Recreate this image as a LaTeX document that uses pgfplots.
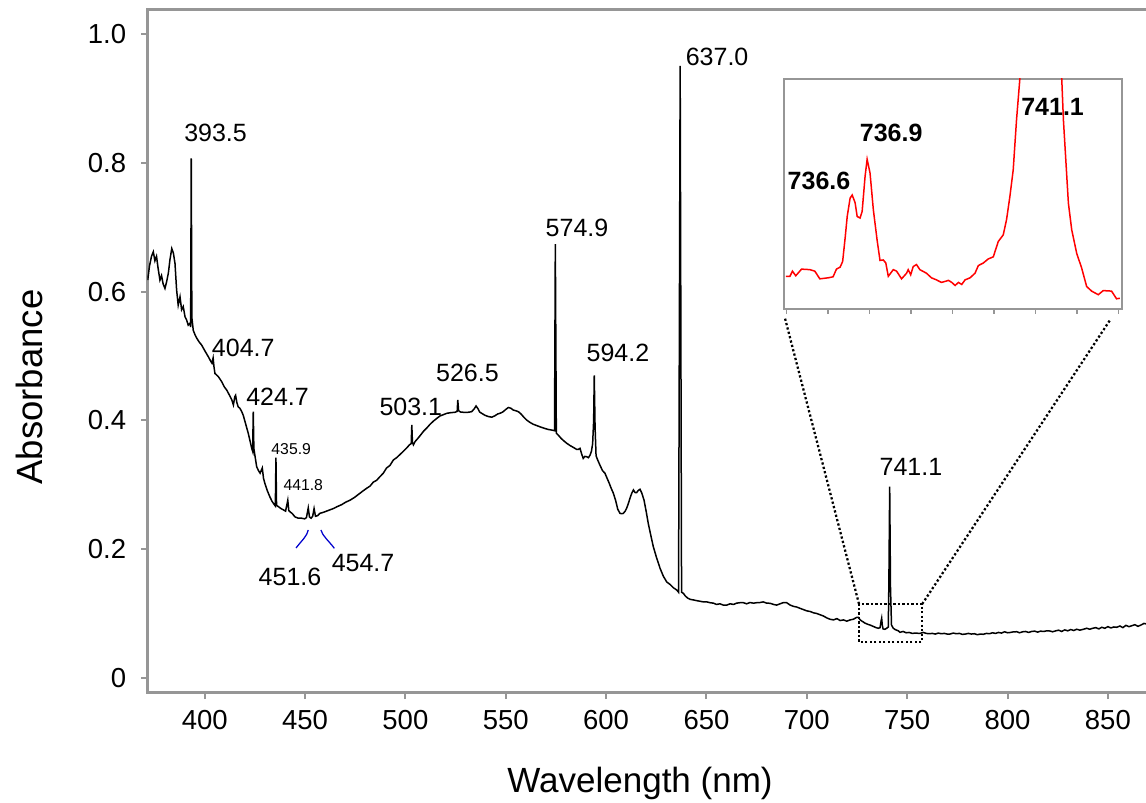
\documentclass[border=0pt]{standalone}
\usepackage{fontspec}
\setmainfont{Liberation Sans}
\usepackage{pgfplots}
\pgfplotsset{compat=1.18}
\definecolor{axgray}{RGB}{150,150,150}
\definecolor{brblue}{RGB}{0,0,205}

\pgfplotstableread{
x y
371.6 0.618
372.5 0.640
373.5 0.655
374.4 0.662
375.2 0.648
376.0 0.655
376.8 0.636
377.7 0.618
378.5 0.625
379.3 0.612
380.2 0.605
381.0 0.615
381.9 0.629
382.7 0.650
383.6 0.667
384.4 0.660
385.2 0.644
386.0 0.603
386.8 0.579
387.7 0.592
388.5 0.572
389.3 0.577
390.2 0.561
391.0 0.556
391.8 0.548
392.7 0.551
393.0 0.545
393.3 0.807
393.6 0.560
394.3 0.540
395.2 0.533
396.0 0.528
397.2 0.522
398.5 0.517
400.1 0.508
401.8 0.499
403.0 0.492
403.6 0.489
404.2 0.497
404.6 0.484
405.1 0.473
406.8 0.468
408.5 0.460
409.8 0.452
411.0 0.447
412.2 0.440
413.5 0.432
414.3 0.424
415.0 0.437
415.4 0.439
416.0 0.428
416.7 0.421
417.5 0.419
418.4 0.414
419.2 0.408
420.1 0.398
421.7 0.380
422.6 0.368
423.4 0.357
423.9 0.352
424.2 0.4135
424.5 0.356
424.9 0.348
425.9 0.328
426.8 0.322
427.6 0.318
428.7 0.326
429.3 0.310
430.0 0.302
431.3 0.290
432.5 0.281
433.6 0.274
434.7 0.269
435.2 0.267
435.5 0.342
435.8 0.268
436.7 0.266
438.0 0.263
439.2 0.261
440.3 0.259
441.4 0.276
441.9 0.260
442.5 0.258
443.7 0.255
445.0 0.250
446.7 0.248
448.3 0.248
449.8 0.247
450.7 0.249
451.6 0.264
452.2 0.250
453.0 0.248
453.8 0.251
454.5 0.263
455.2 0.251
456.3 0.252
457.4 0.2556
459.0 0.257
460.7 0.259
462.4 0.261
464.1 0.263
466.0 0.266
468.2 0.269
470.3 0.273
472.4 0.276
474.5 0.280
476.6 0.285
478.7 0.290
480.7 0.2945
482.4 0.298
484.0 0.304
485.7 0.307
487.3 0.3125
489.0 0.318
490.6 0.326
492.3 0.330
494.0 0.3385
495.6 0.342
497.3 0.347
499.0 0.352
500.6 0.357
502.0 0.362
502.9 0.364
503.2 0.393
503.5 0.366
504.0 0.362
504.8 0.367
506.2 0.372
507.5 0.377
509.0 0.383
510.6 0.388
512.3 0.394
514.0 0.399
515.6 0.403
517.3 0.407
519.0 0.409
520.6 0.411
522.6 0.412
524.7 0.4126
525.8 0.414
526.1 0.4317
526.5 0.415
527.5 0.413
528.9 0.4126
530.8 0.4124
533.0 0.4135
534.3 0.418
535.2 0.4224
536.2 0.418
537.0 0.413
538.0 0.411
539.6 0.408
541.3 0.406
543.0 0.405
544.5 0.407
546.0 0.410
547.1 0.411
548.5 0.413
550.0 0.417
551.3 0.420
552.5 0.419
553.8 0.416
555.0 0.415
556.3 0.4135
557.6 0.410
559.0 0.405
560.4 0.4006
562.0 0.397
563.7 0.394
565.4 0.392
567.1 0.390
569.0 0.388
571.0 0.386
572.9 0.385
574.3 0.384
574.7 0.674
575.2 0.380
576.2 0.377
577.6 0.372
579.0 0.368
580.4 0.3644
582.0 0.361
583.7 0.358
585.3 0.355
586.2 0.355
587.0 0.3566
587.8 0.348
588.6 0.341
589.4 0.344
590.3 0.3436
591.2 0.342
592.0 0.346
592.7 0.352
593.3 0.364
593.8 0.400
594.1 0.470
594.5 0.390
595.0 0.345
595.8 0.3385
597.0 0.330
598.2 0.322
599.4 0.318
600.5 0.310
601.6 0.302
602.6 0.294
603.6 0.287
604.8 0.275
605.8 0.262
606.9 0.2556
607.8 0.255
608.6 0.2556
609.5 0.259
610.3 0.264
611.1 0.271
612.0 0.280
612.8 0.287
613.6 0.292
614.4 0.288
615.2 0.2877
616.0 0.291
616.9 0.293
617.8 0.287
618.9 0.276
620.0 0.258
621.0 0.240
622.3 0.221
623.5 0.204
625.2 0.186
626.9 0.170
628.5 0.158
630.2 0.149
631.9 0.145
633.5 0.140
635.2 0.1364
636.1 0.133
636.9 0.951
637.6 0.133
638.5 0.1313
639.5 0.127
640.6 0.124
641.8 0.122
643.5 0.121
645.0 0.120
646.7 0.119
648.4 0.118
650.1 0.118
651.8 0.1167
653.5 0.116
655.0 0.114
656.7 0.115
658.4 0.113
660.1 0.113
661.8 0.115
663.5 0.114
665.0 0.116
666.7 0.1167
668.4 0.1167
670.0 0.115
671.7 0.117
673.4 0.116
675.0 0.1167
676.7 0.117
678.3 0.118
680.0 0.116
681.7 0.1158
683.4 0.114
685.0 0.113
686.7 0.115
688.4 0.117
690.0 0.1167
691.7 0.113
693.4 0.111
695.0 0.110
696.6 0.108
698.3 0.106
700.0 0.104
701.7 0.103
703.3 0.101
704.9 0.100
706.6 0.098
708.3 0.096
710.0 0.093
711.6 0.091
713.3 0.090
715.0 0.092
716.6 0.089
718.3 0.090
719.9 0.088
721.6 0.090
723.2 0.091
724.9 0.094
725.7 0.094
726.6 0.090
727.5 0.088
729.0 0.085
730.5 0.083
731.5 0.082
733.0 0.080
734.5 0.078
735.6 0.077
736.5 0.078
737.0 0.088
737.3 0.0925
737.6 0.082
738.0 0.076
738.9 0.0754
739.8 0.077
740.6 0.079
740.9 0.150
741.3 0.297
741.7 0.140
742.2 0.082
743.1 0.077
744.0 0.075
745.6 0.073
746.4 0.0707
748.0 0.072
749.5 0.070
751.0 0.0705
752.5 0.069
754.0 0.0695
756.4 0.069
758.0 0.0705
759.5 0.069
761.0 0.0685
762.5 0.069
764.0 0.068
765.5 0.0695
767.0 0.0685
768.5 0.069
770.0 0.068
771.3 0.068
773.0 0.0695
774.5 0.0685
776.0 0.069
777.5 0.0675
779.0 0.068
780.5 0.069
782.0 0.068
783.5 0.0685
785.0 0.067
786.5 0.068
787.9 0.0676
789.5 0.069
791.0 0.0685
792.5 0.070
794.0 0.069
795.5 0.0705
797.0 0.0695
798.5 0.0715
800.0 0.070
801.5 0.0705
803.0 0.0715
804.6 0.0716
806.0 0.070
807.5 0.0715
809.0 0.072
810.5 0.0705
812.0 0.072
813.5 0.0725
815.0 0.071
816.5 0.0725
818.0 0.072
819.5 0.073
821.2 0.0727
822.5 0.0715
824.0 0.073
825.5 0.074
827.0 0.072
828.5 0.0745
830.0 0.073
831.5 0.075
833.0 0.0735
834.5 0.0755
836.0 0.074
837.8 0.0754
839.5 0.077
841.0 0.0755
842.5 0.077
844.0 0.078
845.5 0.076
847.0 0.0785
848.5 0.077
850.0 0.0795
851.5 0.0775
853.0 0.079
854.4 0.0785
856.0 0.0805
857.5 0.078
859.0 0.0815
860.5 0.0795
862.0 0.081
863.5 0.0825
865.0 0.080
866.5 0.082
868.0 0.0845
869.3 0.0836
871.0 0.084
}\spectrum

\pgfplotstableread{
x y
734.98 0.0714
735.08 0.0714
735.14 0.0724
735.22 0.0715
735.36 0.0728
735.56 0.0727
735.68 0.0724
735.80 0.0709
736.00 0.0711
736.12 0.0713
736.20 0.0728
736.29 0.0732
736.35 0.0743
736.41 0.0789
736.46 0.0831
736.53 0.0867
736.58 0.0873
736.65 0.0858
736.70 0.0831
736.77 0.0828
736.82 0.0841
736.89 0.0909
736.94 0.0943
737.01 0.0916
737.09 0.0844
737.18 0.0785
737.25 0.0745
737.33 0.0746
737.39 0.0740
737.45 0.0714
737.57 0.0727
737.65 0.0724
737.77 0.0709
737.89 0.0720
737.93 0.0727
737.99 0.0717
738.05 0.0733
738.13 0.0737
738.21 0.0727
738.37 0.0720
738.49 0.0711
738.61 0.0707
738.73 0.0702
738.82 0.0704
738.90 0.0706
738.98 0.0702
739.06 0.0696
739.14 0.0702
739.22 0.0698
739.30 0.0707
739.42 0.0711
739.54 0.0720
739.62 0.0735
739.74 0.0740
739.86 0.0748
739.98 0.0752
740.10 0.0782
740.22 0.0795
740.30 0.0825
740.38 0.0870
740.46 0.0922
740.54 0.1020
740.62 0.1100
741.10 0.2970
741.63 0.1100
741.67 0.1020
741.79 0.0857
741.87 0.0805
741.99 0.0759
742.11 0.0730
742.23 0.0694
742.35 0.0685
742.51 0.0678
742.63 0.0686
742.83 0.0685
742.95 0.0670
743.03 0.0671
}\insetdata

\begin{document}
\begin{tikzpicture}
\begin{axis}[
  scale only axis, width=401pt, height=273.4pt,
  xmin=371.5, xmax=871, ymin=-0.0236, ymax=1.0385,
  xtick={400,450,...,850},
  ytick={0,0.2,0.4,0.6,0.8,1.0},
  yticklabels={0,0.2,0.4,0.6,0.8,1.0},
  tick pos=left, tick align=outside,
  major tick length=2.5pt,
  every tick/.style={axgray, line width=0.8pt},
  axis line style={axgray, line width=1.2pt},
  ticklabel style={font=\fontsize{11}{13}\selectfont},
  /pgf/number format/assume math mode=true,
  /pgf/number format/1000 sep={},
  xticklabel style={yshift=-1pt},
  yticklabel style={xshift=-2.5pt},
  clip mode=individual,
]
\addplot[black, line width=0.6pt] table[x=x, y=y] {\spectrum};

% peak labels
\begin{scope}[font=\fontsize{10}{12}\selectfont]
\node at (axis cs:405.4,0.8466) {393.5};
\node at (axis cs:419.2,0.5120) {404.7};
\node at (axis cs:436.3,0.4368) {424.7};
\node at (axis cs:442.5,0.1566) {451.6};
\node at (axis cs:478.9,0.1784) {454.7};
\node at (axis cs:502.7,0.4213) {503.1};
\node at (axis cs:530.9,0.4732) {526.5};
\node at (axis cs:585.5,0.6990) {574.9};
\node at (axis cs:605.9,0.5047) {594.2};
\node at (axis cs:655.3,0.9647) {637.0};
\node at (axis cs:751.9,0.3276) {741.1};
\end{scope}
\node[font=\fontsize{6.3}{7}\selectfont] at (axis cs:443.1,0.3552) {435.9};
\node[font=\fontsize{6.3}{7}\selectfont] at (axis cs:449.1,0.2991) {441.8};

% brackets under the 451.6 / 454.7 pair
\draw[brblue, line width=0.5pt] (axis cs:445.5,0.2017) .. controls (axis cs:448.5,0.214) and (axis cs:451.0,0.220) .. (axis cs:451.6,0.2297);
\draw[brblue, line width=0.5pt] (axis cs:457.9,0.2297) .. controls (axis cs:458.8,0.220) and (axis cs:461.5,0.214) .. (axis cs:464.6,0.2012);

% zoom box and guide lines
\draw[black, line width=0.9pt, dash pattern=on 0.9pt off 0.9pt] (axis cs:726.0,0.0561) rectangle (axis cs:757.5,0.1147);
\draw[black, line width=0.9pt, dash pattern=on 0.9pt off 0.9pt] (axis cs:726.0,0.1147) -- (axis cs:689.1,0.5591);
\draw[black, line width=0.9pt, dash pattern=on 0.9pt off 0.9pt] (axis cs:757.5,0.1147) -- (axis cs:851.1,0.5560);

\node[rotate=90, font=\fontsize{14.6}{17}\selectfont] at (axis description cs:-0.1182,0.4477) {Absorbance};
\node[anchor=base, font=\fontsize{14}{16}\selectfont] at (axis description cs:0.4913,-0.1463) {Wavelength (nm)};

\coordinate (insw) at (axis cs:688.6,0.5731);
\end{axis}

\begin{axis}[
  at={(insw)}, anchor=south west,
  scale only axis, width=135.2pt, height=92pt,
  xmin=734.935, xmax=743.08, ymin=0.065, ymax=0.11,
  xtick={735,736,...,743}, xticklabels={},
  ytick=\empty,
  tick pos=left, tick align=outside,
  major tick length=2pt,
  every tick/.style={axgray, line width=0.6pt},
  axis line style={axgray, line width=0.9pt},
  clip mode=individual,
]
\addplot[red, line width=0.6pt] table[x=x, y=y] {\insetdata};
\begin{scope}[font=\fontsize{10}{12}\selectfont\bfseries]
\node at (axis cs:735.78,0.0901) {736.6};
\node at (axis cs:737.52,0.0995) {736.9};
\node at (axis cs:741.41,0.1045) {741.1};
\end{scope}
\end{axis}

\pgfresetboundingbox
\path[use as bounding box] (-59pt,-44pt) rectangle (399.4pt,277.2pt);
\end{tikzpicture}
\end{document}
